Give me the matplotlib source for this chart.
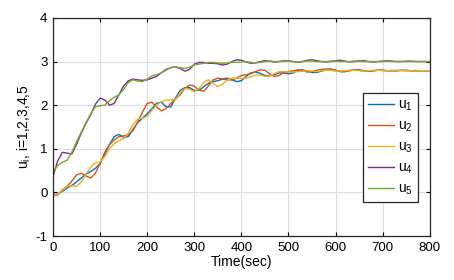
import matplotlib
matplotlib.use('Agg')
import matplotlib.pyplot as plt
import numpy as np

plt.rcParams['font.family'] = ['Liberation Sans', 'DejaVu Sans']
plt.rcParams['mathtext.fontset'] = 'custom'
plt.rcParams['mathtext.rm'] = 'Liberation Sans'
plt.rcParams['mathtext.it'] = 'Liberation Sans'
plt.rcParams['axes.unicode_minus'] = False

# time samples (sec)
t = list(range(0, 801, 10))

u1 = [-0.05, -0.04, 0.02, 0.10, 0.16, 0.24, 0.33, 0.42, 0.48, 0.55,
      0.66, 0.88, 1.10, 1.28, 1.33, 1.26, 1.28, 1.45, 1.60, 1.70,
      1.80, 1.92, 2.04, 2.07, 1.96, 1.96, 2.16, 2.34, 2.40, 2.40,
      2.34, 2.34, 2.42, 2.50, 2.54, 2.56, 2.60, 2.62, 2.58, 2.54,
      2.56, 2.66, 2.74, 2.76, 2.73, 2.68, 2.67, 2.70, 2.74, 2.74,
      2.72, 2.74, 2.80, 2.81, 2.78, 2.75, 2.75, 2.78, 2.81, 2.82,
      2.80, 2.77, 2.77, 2.79, 2.81, 2.81, 2.79, 2.78, 2.79, 2.80,
      2.80, 2.79, 2.79, 2.79, 2.80, 2.80, 2.79, 2.79, 2.79, 2.79, 2.79]

u2 = [-0.08, -0.06, 0.06, 0.14, 0.26, 0.40, 0.44, 0.38, 0.33, 0.44,
      0.66, 0.92, 1.10, 1.20, 1.28, 1.30, 1.32, 1.42, 1.62, 1.84,
      2.04, 2.07, 1.96, 1.87, 1.92, 2.04, 2.14, 2.24, 2.38, 2.46,
      2.44, 2.34, 2.32, 2.44, 2.58, 2.62, 2.60, 2.58, 2.58, 2.62,
      2.68, 2.70, 2.72, 2.77, 2.81, 2.80, 2.72, 2.66, 2.68, 2.74,
      2.77, 2.79, 2.81, 2.79, 2.76, 2.77, 2.80, 2.82, 2.83, 2.83,
      2.80, 2.77, 2.77, 2.80, 2.81, 2.80, 2.78, 2.78, 2.79, 2.80,
      2.80, 2.79, 2.79, 2.79, 2.80, 2.79, 2.79, 2.79, 2.79, 2.79, 2.79]

u3 = [-0.06, -0.05, 0.04, 0.14, 0.15, 0.14, 0.24, 0.42, 0.58, 0.68,
      0.70, 0.82, 1.00, 1.12, 1.18, 1.24, 1.36, 1.56, 1.68, 1.70,
      1.74, 1.88, 2.00, 2.08, 2.12, 2.12, 2.13, 2.28, 2.38, 2.36,
      2.31, 2.38, 2.52, 2.58, 2.50, 2.43, 2.48, 2.58, 2.62, 2.62,
      2.61, 2.62, 2.65, 2.69, 2.69, 2.66, 2.67, 2.72, 2.77, 2.77,
      2.76, 2.76, 2.77, 2.78, 2.79, 2.78, 2.77, 2.79, 2.81, 2.80,
      2.78, 2.78, 2.79, 2.80, 2.80, 2.79, 2.78, 2.79, 2.80, 2.80,
      2.79, 2.79, 2.80, 2.80, 2.79, 2.79, 2.79, 2.80, 2.79, 2.79, 2.79]

u4 = [0.36, 0.72, 0.92, 0.90, 0.88, 1.10, 1.36, 1.58, 1.78, 2.02,
      2.16, 2.12, 2.00, 2.04, 2.24, 2.44, 2.56, 2.60, 2.58, 2.57,
      2.58, 2.62, 2.66, 2.74, 2.82, 2.86, 2.88, 2.84, 2.78, 2.82,
      2.94, 2.98, 2.98, 2.96, 2.96, 2.95, 2.92, 2.94, 3.00, 3.04,
      3.03, 2.99, 2.96, 2.97, 3.00, 3.02, 3.01, 2.99, 3.00, 3.02,
      3.02, 3.00, 2.98, 3.00, 3.03, 3.04, 3.02, 3.00, 2.99, 3.00,
      3.02, 3.03, 3.01, 2.99, 3.00, 3.02, 3.02, 3.00, 2.99, 3.00,
      3.01, 3.02, 3.01, 3.00, 3.00, 3.01, 3.01, 3.00, 3.00, 3.00, 3.00]

u5 = [0.47, 0.62, 0.69, 0.74, 0.92, 1.16, 1.38, 1.60, 1.80, 1.96,
      1.99, 2.00, 2.10, 2.18, 2.24, 2.36, 2.52, 2.58, 2.55, 2.54,
      2.60, 2.67, 2.70, 2.74, 2.80, 2.86, 2.88, 2.86, 2.84, 2.87,
      2.92, 2.94, 2.96, 2.98, 2.98, 2.97, 2.96, 2.97, 2.98, 2.98,
      2.99, 3.00, 2.98, 2.97, 2.98, 3.00, 3.01, 3.00, 3.00, 3.01,
      3.01, 3.00, 2.99, 3.00, 3.01, 3.01, 3.00, 3.00, 3.00, 3.01,
      3.01, 3.00, 3.00, 3.00, 3.01, 3.01, 3.00, 3.00, 3.00, 3.00,
      3.00, 3.01, 3.00, 3.00, 3.00, 3.00, 3.00, 3.00, 3.00, 3.00, 3.00]

series = [u1, u2, u3, u4, u5]
labels = ['u$_1$', 'u$_2$', 'u$_3$', 'u$_4$', 'u$_5$']
colors = ['#0072BD', '#D95319', '#EDB120', '#7E2F8E', '#77AC30']

fig = plt.figure(figsize=(4.54, 2.80), dpi=100)
ax = fig.add_axes([0.1167, 0.157, 0.830, 0.779])

for y, lab, c in zip(series, labels, colors):
    ax.plot(t, y, color=c, lw=1.0, label=lab, solid_joinstyle='round')

ax.set_xlim(0, 800)
ax.set_ylim(-1, 4)
ax.set_xticks(range(0, 801, 100))
ax.set_yticks(range(-1, 5))
ax.grid(True, color='#dddddd', lw=0.8)
ax.set_axisbelow(True)
ax.tick_params(direction='in', top=True, right=True, labelsize=9.5, length=3, pad=4)
for s in ax.spines.values():
    s.set_linewidth(0.9)
    s.set_color('#262626')

ax.set_xlabel('Time(sec)', fontsize=10, labelpad=1)
ax.set_ylabel('u$_i$, i=1,2,3,4,5', fontsize=10, labelpad=2)

leg = ax.legend(loc='upper right', bbox_to_anchor=(0.968, 0.656), fontsize=10,
                fancybox=False, framealpha=1, edgecolor='#262626',
                handlelength=1.9, labelspacing=0.4, borderpad=0.35,
                handletextpad=0.25, borderaxespad=0)
leg.get_frame().set_linewidth(0.9)

plt.savefig('out.png', dpi=100)
